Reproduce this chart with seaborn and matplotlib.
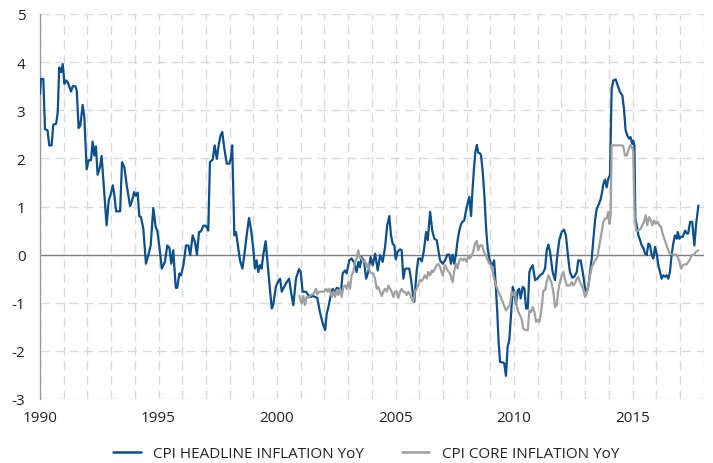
import matplotlib
matplotlib.use("Agg")
import matplotlib.pyplot as plt
from matplotlib.lines import Line2D
from matplotlib.ticker import MultipleLocator
import seaborn as sns
import pandas as pd

# ---------------- data ----------------
series_names = ["CPI HEADLINE INFLATION YoY", "CPI CORE INFLATION YoY"]

headline_year = [
    1990.00, 1990.04, 1990.14, 1990.21, 1990.32, 1990.39, 1990.49, 1990.56, 1990.68, 1990.75,
    1990.81, 1990.89, 1990.96, 1991.03, 1991.10, 1991.17, 1991.31, 1991.38, 1991.49, 1991.55,
    1991.63, 1991.70, 1991.80, 1991.87, 1991.97, 1992.05, 1992.15, 1992.22, 1992.29, 1992.36,
    1992.43, 1992.53, 1992.60, 1992.67, 1992.74, 1992.81, 1992.90, 1992.97, 1993.07, 1993.14,
    1993.21, 1993.38, 1993.46, 1993.56, 1993.66, 1993.80, 1993.88, 1993.97, 1994.04, 1994.12,
    1994.19, 1994.26, 1994.36, 1994.47, 1994.57, 1994.67, 1994.78, 1994.88, 1994.95, 1995.03,
    1995.14, 1995.27, 1995.37, 1995.46, 1995.54, 1995.62, 1995.73, 1995.79, 1995.88, 1995.95,
    1996.05, 1996.16, 1996.26, 1996.34, 1996.44, 1996.54, 1996.62, 1996.71, 1996.79, 1996.89,
    1997.00, 1997.10, 1997.17, 1997.29, 1997.37, 1997.46, 1997.54, 1997.62, 1997.69, 1997.78,
    1997.88, 1997.99, 1998.05, 1998.11, 1998.20, 1998.27, 1998.37, 1998.44, 1998.54, 1998.62,
    1998.72, 1998.82, 1998.90, 1999.00, 1999.07, 1999.14, 1999.21, 1999.28, 1999.35, 1999.42,
    1999.52, 1999.61, 1999.70, 1999.78, 1999.84, 1999.95, 2000.06, 2000.13, 2000.20, 2000.30,
    2000.41, 2000.51, 2000.59, 2000.69, 2000.80, 2000.93, 2001.00, 2001.08, 2001.22, 2001.32,
    2001.42, 2001.51, 2001.60, 2001.70, 2001.81, 2001.93, 2002.03, 2002.10, 2002.16, 2002.27,
    2002.35, 2002.42, 2002.52, 2002.63, 2002.70, 2002.77, 2002.87, 2002.94, 2003.05, 2003.15,
    2003.26, 2003.36, 2003.43, 2003.50, 2003.57, 2003.67, 2003.76, 2003.85, 2003.95, 2004.04,
    2004.14, 2004.25, 2004.35, 2004.46, 2004.56, 2004.65, 2004.74, 2004.81, 2004.88, 2004.95,
    2005.01, 2005.09, 2005.19, 2005.26, 2005.33, 2005.40, 2005.47, 2005.58, 2005.65, 2005.73,
    2005.79, 2005.89, 2005.96, 2006.03, 2006.11, 2006.20, 2006.29, 2006.36, 2006.46, 2006.55,
    2006.64, 2006.74, 2006.81, 2006.88, 2006.99, 2007.09, 2007.19, 2007.27, 2007.34, 2007.41,
    2007.48, 2007.55, 2007.61, 2007.68, 2007.75, 2007.82, 2007.90, 2007.97, 2008.05, 2008.11,
    2008.19, 2008.24, 2008.31, 2008.37, 2008.43, 2008.49, 2008.57, 2008.61, 2008.68, 2008.75,
    2008.82, 2008.89, 2008.96, 2009.03, 2009.10, 2009.16, 2009.23, 2009.30, 2009.35, 2009.41,
    2009.52, 2009.59, 2009.66, 2009.73, 2009.80, 2009.87, 2009.95, 2010.00, 2010.08, 2010.16,
    2010.22, 2010.28, 2010.37, 2010.44, 2010.51, 2010.58, 2010.65, 2010.70, 2010.79, 2010.89,
    2010.98, 2011.10, 2011.21, 2011.31, 2011.38, 2011.45, 2011.52, 2011.63, 2011.73, 2011.83,
    2011.91, 2012.01, 2012.11, 2012.19, 2012.29, 2012.36, 2012.46, 2012.54, 2012.65, 2012.71,
    2012.81, 2012.90, 2013.00, 2013.07, 2013.14, 2013.21, 2013.28, 2013.35, 2013.43, 2013.49,
    2013.59, 2013.66, 2013.73, 2013.77, 2013.84, 2013.91, 2013.98, 2014.05, 2014.12, 2014.19,
    2014.29, 2014.38, 2014.47, 2014.57, 2014.64, 2014.71, 2014.78, 2014.85, 2014.92, 2014.99,
    2015.03, 2015.08, 2015.12, 2015.18, 2015.25, 2015.32, 2015.39, 2015.46, 2015.53, 2015.60,
    2015.67, 2015.74, 2015.81, 2015.88, 2015.95, 2016.02, 2016.09, 2016.16, 2016.23, 2016.30,
    2016.37, 2016.44, 2016.51, 2016.58, 2016.65, 2016.72, 2016.79, 2016.87, 2016.91, 2016.98,
    2017.03, 2017.12, 2017.22, 2017.29, 2017.35, 2017.43, 2017.52, 2017.61, 2017.68, 2017.78,
]
headline_yoy = [
    3.34, 3.65, 3.65, 2.61, 2.58, 2.27, 2.27, 2.70, 2.72, 2.96,
    3.89, 3.79, 3.96, 3.55, 3.62, 3.58, 3.39, 3.50, 3.50, 3.41,
    2.63, 2.68, 3.11, 2.86, 1.77, 1.96, 1.96, 2.35, 2.06, 2.25,
    1.66, 1.82, 2.05, 1.58, 1.09, 0.61, 1.13, 1.23, 1.44, 1.23,
    0.90, 0.90, 1.92, 1.82, 1.44, 1.01, 1.11, 1.30, 1.22, 1.29,
    0.80, 0.78, 0.54, -0.19, -0.01, 0.19, 0.97, 0.57, 0.50, 0.19,
    -0.29, -0.15, 0.19, 0.14, -0.19, 0.09, -0.69, -0.69, -0.39, -0.43,
    -0.22, 0.19, 0.19, -0.01, 0.40, 0.26, 0.00, 0.47, 0.48, 0.60,
    0.60, 0.50, 1.92, 1.98, 2.27, 1.99, 2.28, 2.48, 2.55, 2.20,
    1.89, 1.89, 1.99, 2.27, 0.40, 0.47, 0.12, -0.12, -0.29, -0.01,
    0.40, 0.76, 0.54, 0.12, -0.29, -0.12, -0.36, -0.22, -0.29, -0.01,
    0.28, -0.22, -0.71, -1.12, -1.05, -0.67, -0.55, -0.50, -0.77, -0.67,
    -0.57, -0.50, -0.77, -1.05, -0.50, -0.30, -0.36, -0.77, -0.77, -0.84,
    -0.88, -0.86, -0.88, -0.90, -1.19, -1.43, -1.57, -1.22, -1.11, -0.84,
    -0.71, -0.79, -0.69, -0.71, -0.77, -0.39, -0.33, -0.39, -0.12, -0.08,
    -0.17, -0.36, -0.15, -0.26, -0.05, -0.12, -0.50, -0.36, -0.05, -0.22,
    0.02, -0.33, -0.01, -0.15, 0.16, 0.61, 0.80, 0.40, 0.23, 0.19,
    -0.10, 0.06, 0.11, 0.09, -0.50, -0.30, -0.29, -0.29, -0.50, -0.81,
    -0.98, -0.36, -0.08, -0.08, -0.14, 0.09, 0.47, 0.30, 0.89, 0.50,
    0.33, 0.30, 0.09, -0.12, -0.19, -0.12, 0.00, 0.00, -0.19, 0.00,
    -0.19, 0.00, 0.26, 0.47, 0.61, 0.68, 0.71, 0.90, 1.08, 1.20,
    0.80, 1.27, 1.78, 2.13, 2.28, 2.12, 2.10, 2.06, 1.72, 1.23,
    0.57, 0.12, -0.08, -0.19, -0.22, -0.12, -0.64, -1.26, -1.81, -2.23,
    -2.24, -2.26, -2.52, -1.92, -1.78, -1.29, -0.67, -0.77, -1.02, -0.74,
    -0.71, -0.91, -0.67, -0.71, -1.12, -1.12, -0.36, -0.29, -0.22, -0.53,
    -0.50, -0.43, -0.39, -0.29, 0.09, 0.21, 0.06, -0.36, -0.53, -0.01,
    0.30, 0.47, 0.52, 0.40, -0.08, -0.36, -0.48, -0.46, -0.36, -0.12,
    -0.12, -0.36, -0.71, -0.77, -0.64, -0.36, -0.08, 0.33, 0.75, 0.95,
    1.06, 1.16, 1.33, 1.47, 1.56, 1.40, 1.58, 1.65, 3.44, 3.62,
    3.64, 3.51, 3.38, 3.31, 3.03, 2.58, 2.48, 2.41, 2.44, 2.30,
    2.37, 2.27, 0.75, 0.61, 0.40, 0.30, 0.19, 0.14, 0.02, -0.01,
    0.23, 0.19, -0.01, -0.08, 0.16, 0.02, -0.22, -0.36, -0.50, -0.43,
    -0.46, -0.43, -0.50, -0.36, -0.01, 0.23, 0.40, 0.33, 0.47, 0.33,
    0.37, 0.37, 0.50, 0.44, 0.44, 0.68, 0.68, 0.19, 0.61, 1.02,
]

core_year = [
    2000.94, 2001.04, 2001.11, 2001.18, 2001.25, 2001.32, 2001.39, 2001.46, 2001.56, 2001.65,
    2001.70, 2001.79, 2001.89, 2001.98, 2002.07, 2002.14, 2002.21, 2002.31, 2002.38, 2002.45,
    2002.52, 2002.59, 2002.66, 2002.73, 2002.80, 2002.87, 2002.94, 2003.01, 2003.08, 2003.15,
    2003.22, 2003.29, 2003.36, 2003.43, 2003.50, 2003.57, 2003.64, 2003.71, 2003.78, 2003.85,
    2003.92, 2004.00, 2004.06, 2004.14, 2004.21, 2004.27, 2004.35, 2004.42, 2004.49, 2004.56,
    2004.63, 2004.70, 2004.77, 2004.84, 2004.91, 2004.98, 2005.05, 2005.12, 2005.19, 2005.26,
    2005.33, 2005.40, 2005.47, 2005.54, 2005.61, 2005.68, 2005.75, 2005.82, 2005.89, 2005.96,
    2006.03, 2006.11, 2006.17, 2006.24, 2006.32, 2006.38, 2006.46, 2006.53, 2006.59, 2006.67,
    2006.74, 2006.81, 2006.88, 2006.99, 2007.09, 2007.19, 2007.30, 2007.41, 2007.47, 2007.55,
    2007.62, 2007.69, 2007.76, 2007.84, 2007.90, 2008.00, 2008.07, 2008.14, 2008.22, 2008.28,
    2008.35, 2008.43, 2008.49, 2008.57, 2008.66, 2008.73, 2008.81, 2008.87, 2008.96, 2009.03,
    2009.10, 2009.16, 2009.24, 2009.34, 2009.44, 2009.55, 2009.66, 2009.76, 2009.83, 2009.90,
    2009.97, 2010.04, 2010.11, 2010.18, 2010.25, 2010.32, 2010.39, 2010.49, 2010.58, 2010.65,
    2010.72, 2010.79, 2010.86, 2010.93, 2011.00, 2011.07, 2011.13, 2011.18, 2011.24, 2011.31,
    2011.38, 2011.45, 2011.52, 2011.59, 2011.66, 2011.73, 2011.80, 2011.87, 2011.94, 2012.01,
    2012.08, 2012.15, 2012.22, 2012.29, 2012.36, 2012.44, 2012.50, 2012.57, 2012.65, 2012.71,
    2012.78, 2012.86, 2012.92, 2013.00, 2013.07, 2013.14, 2013.21, 2013.28, 2013.35, 2013.43,
    2013.52, 2013.60, 2013.70, 2013.77, 2013.84, 2013.91, 2013.98, 2014.02, 2014.08, 2014.12,
    2014.26, 2014.40, 2014.54, 2014.61, 2014.68, 2014.76, 2014.82, 2014.90, 2014.97, 2015.03,
    2015.09, 2015.15, 2015.25, 2015.35, 2015.41, 2015.49, 2015.56, 2015.62, 2015.70, 2015.77,
    2015.84, 2015.91, 2015.98, 2016.06, 2016.13, 2016.20, 2016.27, 2016.34, 2016.41, 2016.51,
    2016.58, 2016.72, 2016.84, 2016.91, 2016.98, 2017.05, 2017.12, 2017.22, 2017.29, 2017.40,
    2017.50, 2017.60, 2017.68, 2017.78,
]
core_yoy = [
    -0.86, -1.02, -0.86, -1.05, -0.88, -0.90, -0.86, -0.83, -0.81, -0.71,
    -0.83, -0.77, -0.77, -0.77, -0.71, -0.77, -0.71, -0.88, -0.77, -0.88,
    -0.74, -0.84, -0.71, -0.88, -0.67, -0.64, -0.71, -0.57, -0.71, -0.43,
    -0.36, -0.15, -0.08, 0.09, -0.08, -0.07, -0.15, -0.12, -0.26, -0.19,
    -0.36, -0.39, -0.39, -0.50, -0.71, -0.67, -0.77, -0.86, -0.76, -0.71,
    -0.77, -0.64, -0.71, -0.77, -0.88, -0.77, -0.77, -0.90, -0.77, -0.71,
    -0.77, -0.78, -0.84, -0.77, -0.83, -0.91, -0.98, -0.77, -0.71, -0.64,
    -0.53, -0.55, -0.50, -0.43, -0.50, -0.36, -0.43, -0.33, -0.36, -0.29,
    -0.22, -0.19, -0.26, -0.43, -0.22, -0.33, -0.39, -0.57, -0.36, -0.19,
    -0.29, -0.12, -0.08, -0.12, -0.08, -0.15, -0.03, -0.08, -0.01, 0.06,
    0.23, 0.28, 0.09, 0.19, 0.19, 0.06, -0.01, -0.08, -0.19, -0.22,
    -0.36, -0.50, -0.64, -0.77, -0.88, -1.02, -1.16, -1.09, -1.05, -0.77,
    -0.84, -0.77, -1.05, -1.19, -1.26, -1.33, -1.54, -1.57, -1.57, -1.16,
    -1.19, -1.09, -1.19, -1.40, -1.36, -1.40, -1.22, -1.05, -0.74, -0.74,
    -0.57, -0.43, -0.50, -0.60, -0.77, -1.09, -1.05, -0.74, -0.57, -0.43,
    -0.36, -0.50, -0.64, -0.64, -0.64, -0.57, -0.64, -0.60, -0.50, -0.46,
    -0.57, -0.64, -0.71, -0.88, -0.81, -0.64, -0.43, -0.26, -0.19, -0.12,
    -0.05, 0.19, 0.47, 0.68, 0.75, 0.75, 0.89, 0.64, 0.82, 2.27,
    2.27, 2.27, 2.27, 2.26, 2.06, 2.06, 2.16, 2.27, 2.24, 2.16,
    0.82, 0.50, 0.50, 0.54, 0.61, 0.68, 0.82, 0.61, 0.78, 0.71,
    0.61, 0.71, 0.64, 0.68, 0.61, 0.58, 0.44, 0.33, 0.23, 0.09,
    0.02, 0.00, 0.00, -0.05, -0.15, -0.29, -0.22, -0.20, -0.20, -0.12,
    -0.01, 0.00, 0.06, 0.09,
]

x_tick_years = [1990, 1995, 2000, 2005, 2010, 2015]
y_tick_values = [-3, -2, -1, 0, 1, 2, 3, 4, 5]

# ---------------- styling ----------------
sns.set_style("white")
plt.rcParams["font.family"] = ["Open Sans", "DejaVu Sans"]
plt.rcParams["axes.unicode_minus"] = False
plt.rcParams["lines.scale_dashes"] = False

BLUE = "#0B4F8C"
GREY = "#A0A0A0"
TEXT = "#222222"
GRID = "#D9D9D9"

df = pd.concat([
    pd.DataFrame({"year": headline_year, "value": headline_yoy, "series": series_names[0]}),
    pd.DataFrame({"year": core_year, "value": core_yoy, "series": series_names[1]}),
], ignore_index=True)

fig = plt.figure(figsize=(7.13, 4.64), dpi=100)
W, H = 713, 464
ax = fig.add_axes([40 / W, 1 - 400 / H, (703.6 - 40) / W, (400 - 15) / H])

sns.lineplot(data=df, x="year", y="value", hue="series",
             hue_order=series_names, palette=[BLUE, GREY],
             estimator=None, sort=False, linewidth=1.6,
             legend=False, ax=ax, zorder=3)

ax.set_xlim(1990, 2018)
ax.set_ylim(-3, 5)
ax.set_xticks(x_tick_years)
ax.set_xticklabels([str(y) for y in x_tick_years])
ax.xaxis.set_minor_locator(MultipleLocator(1))
ax.set_yticks(y_tick_values)
ax.set_yticklabels([str(v) for v in y_tick_values])
ax.set_xlabel("")
ax.set_ylabel("")

ax.grid(True, which="both", axis="x", color=GRID, linestyle=(0, (6.5, 4)), linewidth=1.0, zorder=0)
ax.grid(True, which="major", axis="y", color=GRID, linestyle=(0, (6.5, 4)), linewidth=1.0, zorder=0)
ax.axhline(0, color="#808080", linewidth=1.0, zorder=2)

for s in ["top", "right", "bottom"]:
    ax.spines[s].set_visible(False)
ax.spines["left"].set_color("#9A9A9A")
ax.spines["left"].set_linewidth(1.0)

ax.tick_params(axis="y", which="major", length=3.5, width=1.0, color="#9A9A9A",
               pad=7, labelsize=11, labelcolor=TEXT)
ax.tick_params(axis="x", which="both", length=0, pad=8, labelsize=11, labelcolor=TEXT)

handles = [Line2D([], [], color=BLUE, linewidth=1.8),
           Line2D([], [], color=GREY, linewidth=1.8)]
fig.legend(handles, series_names, loc="center", bbox_to_anchor=(366 / W, 1 - 455 / H),
           ncol=2, frameon=False, fontsize=11, handlelength=1.8,
           handletextpad=0.8, columnspacing=2.5, labelcolor=TEXT)

fig.savefig("out.png", dpi=100)
